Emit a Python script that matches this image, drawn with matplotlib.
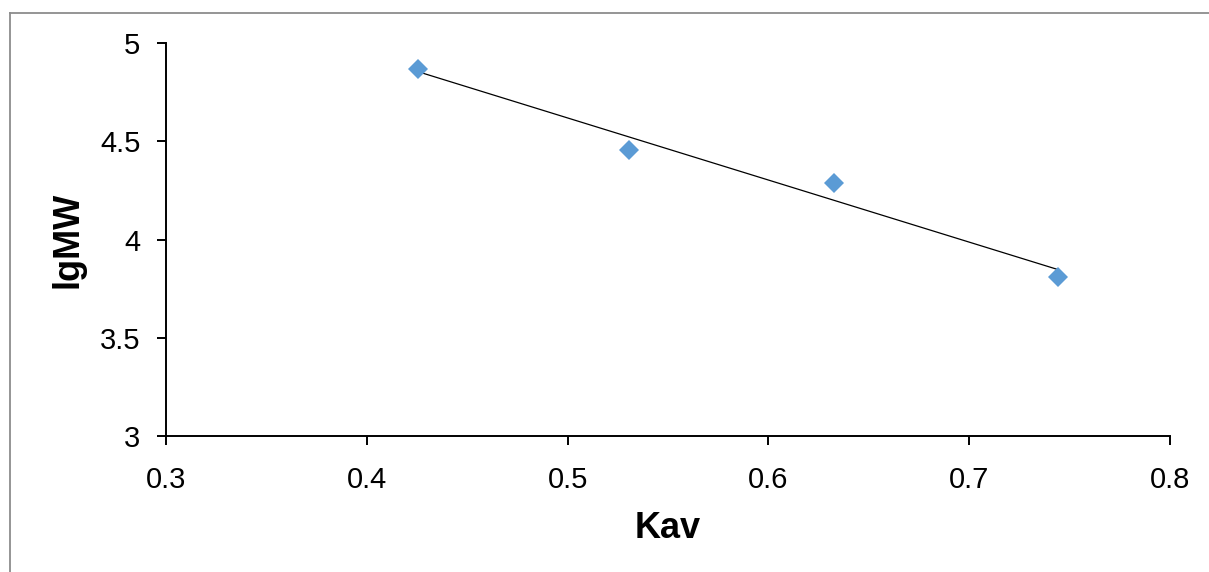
import numpy as np
import matplotlib
matplotlib.use("Agg")
import matplotlib.pyplot as plt
from matplotlib.lines import Line2D

plt.rcParams['font.family'] = ['Liberation Sans', 'DejaVu Sans']

# data
kav = [0.4254, 0.5305, 0.6325, 0.7444]
lgmw = [4.869, 4.457, 4.290, 3.811]
xticks = [0.3, 0.4, 0.5, 0.6, 0.7, 0.8]
yticks = [3, 3.5, 4, 4.5, 5]
xticklabels = ['0.3', '0.4', '0.5', '0.6', '0.7', '0.8']
yticklabels = ['3', '3.5', '4', '4.5', '5']

fig = plt.figure(figsize=(12.09, 5.72), dpi=100)
ax = fig.add_axes([166 / 1209, 1 - 436 / 572, (1170 - 166) / 1209, (436 - 43.3) / 572])

# linear trend line over the data range
k, b = np.polyfit(kav, lgmw, 1)
xs = np.array([min(kav), max(kav)])
ax.plot(xs, k * xs + b, color='black', lw=0.9, zorder=2)
ax.plot(kav, lgmw, linestyle='none', marker='D', ms=9.8,
        color='#5b9bd5', markeredgewidth=0, zorder=3)

ax.set_xlim(0.3, 0.8)
ax.set_ylim(3, 5)
ax.set_xticks(xticks)
ax.set_xticklabels(xticklabels)
ax.set_yticks(yticks)
ax.set_yticklabels(yticklabels)

for s in ['top', 'right']:
    ax.spines[s].set_visible(False)
for s in ['left', 'bottom']:
    ax.spines[s].set_linewidth(1.4)
ax.tick_params(direction='out', length=6.5, width=1.4, labelsize=21)
ax.tick_params(axis='y', pad=12)
ax.tick_params(axis='x', pad=15)

ax.set_xlabel('Kav', fontsize=26, fontweight='bold', labelpad=12)
ax.set_ylabel('lgMW', fontsize=26, fontweight='bold', labelpad=10)

# gray outer frame (top and left edges visible)
fig.add_artist(Line2D([10 / 1209, 10 / 1209], [0, 1 - 13 / 572],
                      transform=fig.transFigure, color='#8c8c8c', lw=1.3))
fig.add_artist(Line2D([10 / 1209, 1], [1 - 13 / 572, 1 - 13 / 572],
                      transform=fig.transFigure, color='#8c8c8c', lw=1.3))

fig.savefig('out.png', dpi=100)
